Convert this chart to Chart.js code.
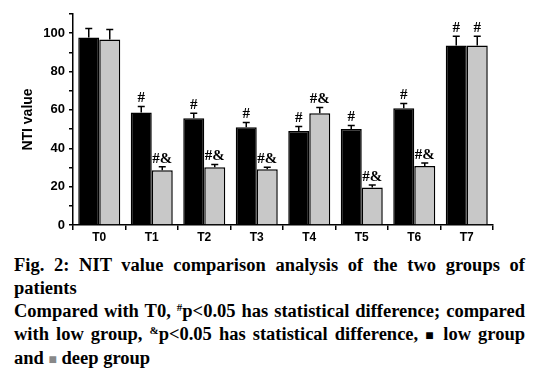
<!DOCTYPE html>
<html>
<head>
<meta charset="utf-8">
<script src="https://cdn.jsdelivr.net/npm/chart.js@4"></script>
<style>
  body { margin: 0; background: #fff; }
  #wrap { position: relative; width: 539px; height: 248px; }
  #caption {
    font-family: "Liberation Serif", "Times New Roman", serif;
    font-weight: bold;
    font-size: 18.5px;
    line-height: 23px;
    text-align: justify;
    padding: 6px 14px 0 14px;
    color: #000;
  }
  #caption sup { font-size: 11px; vertical-align: 6px; line-height: 0; }
  .sq { font-size: 14px; }
</style>
</head>
<body>
<div id="wrap"><canvas id="chart"></canvas></div>
<div id="caption">Fig. 2: NIT value comparison analysis of the two groups of patients<br>Compared with T0, <sup>#</sup>p&lt;0.05 has statistical difference; compared with low group, <sup>&amp;</sup>p&lt;0.05 has statistical difference, <span class="sq">&#9632;</span> low group and <span class="sq" style="color:#888">&#9632;</span> deep group</div>
<script>
const categories = ["T0", "T1", "T2", "T3", "T4", "T5", "T6", "T7"];
const lowValues = [97.8, 58.7, 55.7, 51.0, 49.0, 50.0, 60.9, 93.6];
const lowErrors = [4.6, 3.1, 2.5, 2.5, 2.4, 1.9, 2.5, 4.8];
const lowMarks = ["", "#", "#", "#", "#", "#", "#", "#"];
const deepValues = [96.7, 28.5, 30.1, 29.0, 58.2, 19.6, 30.7, 93.6];
const deepErrors = [5.2, 1.9, 1.5, 1.1, 3.1, 1.2, 1.6, 4.8];
const deepMarks = ["", "#&", "#&", "#&", "#&", "#&", "#&", "#"];

const errorBars = {
    id: "errorBars",
    afterDatasetsDraw(chart) {
        const ctx = chart.ctx;
        const yScale = chart.scales.y;
        chart.data.datasets.forEach((ds, di) => {
            const meta = chart.getDatasetMeta(di);
            meta.data.forEach((bar, i) => {
                const top = yScale.getPixelForValue(ds.data[i] + ds.errors[i]);
                ctx.save();
                ctx.strokeStyle = "#000";
                ctx.lineWidth = 1.5;
                ctx.beginPath();
                ctx.moveTo(bar.x, bar.y);
                ctx.lineTo(bar.x, top);
                ctx.moveTo(bar.x - 3.5, top);
                ctx.lineTo(bar.x + 3.5, top);
                ctx.stroke();
                if (ds.marks[i]) {
                    ctx.fillStyle = "#000";
                    ctx.font = "bold 15px 'Liberation Serif', 'Times New Roman', serif";
                    ctx.textAlign = "center";
                    ctx.textBaseline = "alphabetic";
                    ctx.fillText(ds.marks[i], bar.x, top - 4);
                }
                ctx.restore();
            });
        });
    }
};

const ctx = document.getElementById("chart").getContext("2d");
new Chart(ctx, {
    type: "bar",
    data: {
        labels: categories,
        datasets: [
            {
                label: "low group",
                data: lowValues,
                errors: lowErrors,
                marks: lowMarks,
                backgroundColor: "#000000",
                borderColor: "#000000",
                borderWidth: 1.5,
                categoryPercentage: 0.8,
                barPercentage: 1.0,
            },
            {
                label: "deep group",
                data: deepValues,
                errors: deepErrors,
                marks: deepMarks,
                backgroundColor: "#c8c8c8",
                borderColor: "#000000",
                borderWidth: 1.5,
                categoryPercentage: 0.8,
                barPercentage: 1.0,
            },
        ],
    },
    options: {
        responsive: true,
        maintainAspectRatio: false,
        animation: false,
        layout: { padding: { left: 20, right: 46, top: 14, bottom: 0 } },
        plugins: {
            legend: { display: false },
            tooltip: { enabled: false },
        },
        scales: {
            x: {
                grid: {
                    offset: true,
                    drawOnChartArea: false,
                    color: "#000",
                    tickLength: 5,
                    lineWidth: 1.5,
                },
                border: { color: "#000", width: 1.5 },
                ticks: {
                    color: "#000",
                    padding: 0,
                    font: { family: "Arial, 'Liberation Sans', sans-serif", size: 12, weight: "bold" },
                },
                afterFit: (scale) => { scale.height = 23; },
            },
            y: {
                min: 0,
                max: 110,
                grid: {
                    drawOnChartArea: false,
                    color: "#000",
                    tickLength: 4,
                    lineWidth: 1.5,
                },
                border: { color: "#000", width: 1.5 },
                ticks: {
                    stepSize: 10,
                    color: "#000",
                    padding: 4,
                    font: { family: "Arial, 'Liberation Sans', sans-serif", size: 13, weight: "bold" },
                    callback: (v) => (v % 20 === 0 && v <= 100 ? v : ""),
                },
                title: {
                    display: true,
                    text: "NTI value",
                    color: "#000",
                    padding: { top: 0, bottom: 6 },
                    font: { family: "Arial, 'Liberation Sans', sans-serif", size: 14, weight: "bold" },
                },
                afterFit: (scale) => { scale.width = 53; },
            },
        },
    },
    plugins: [errorBars],
});
</script>
</body>
</html>
